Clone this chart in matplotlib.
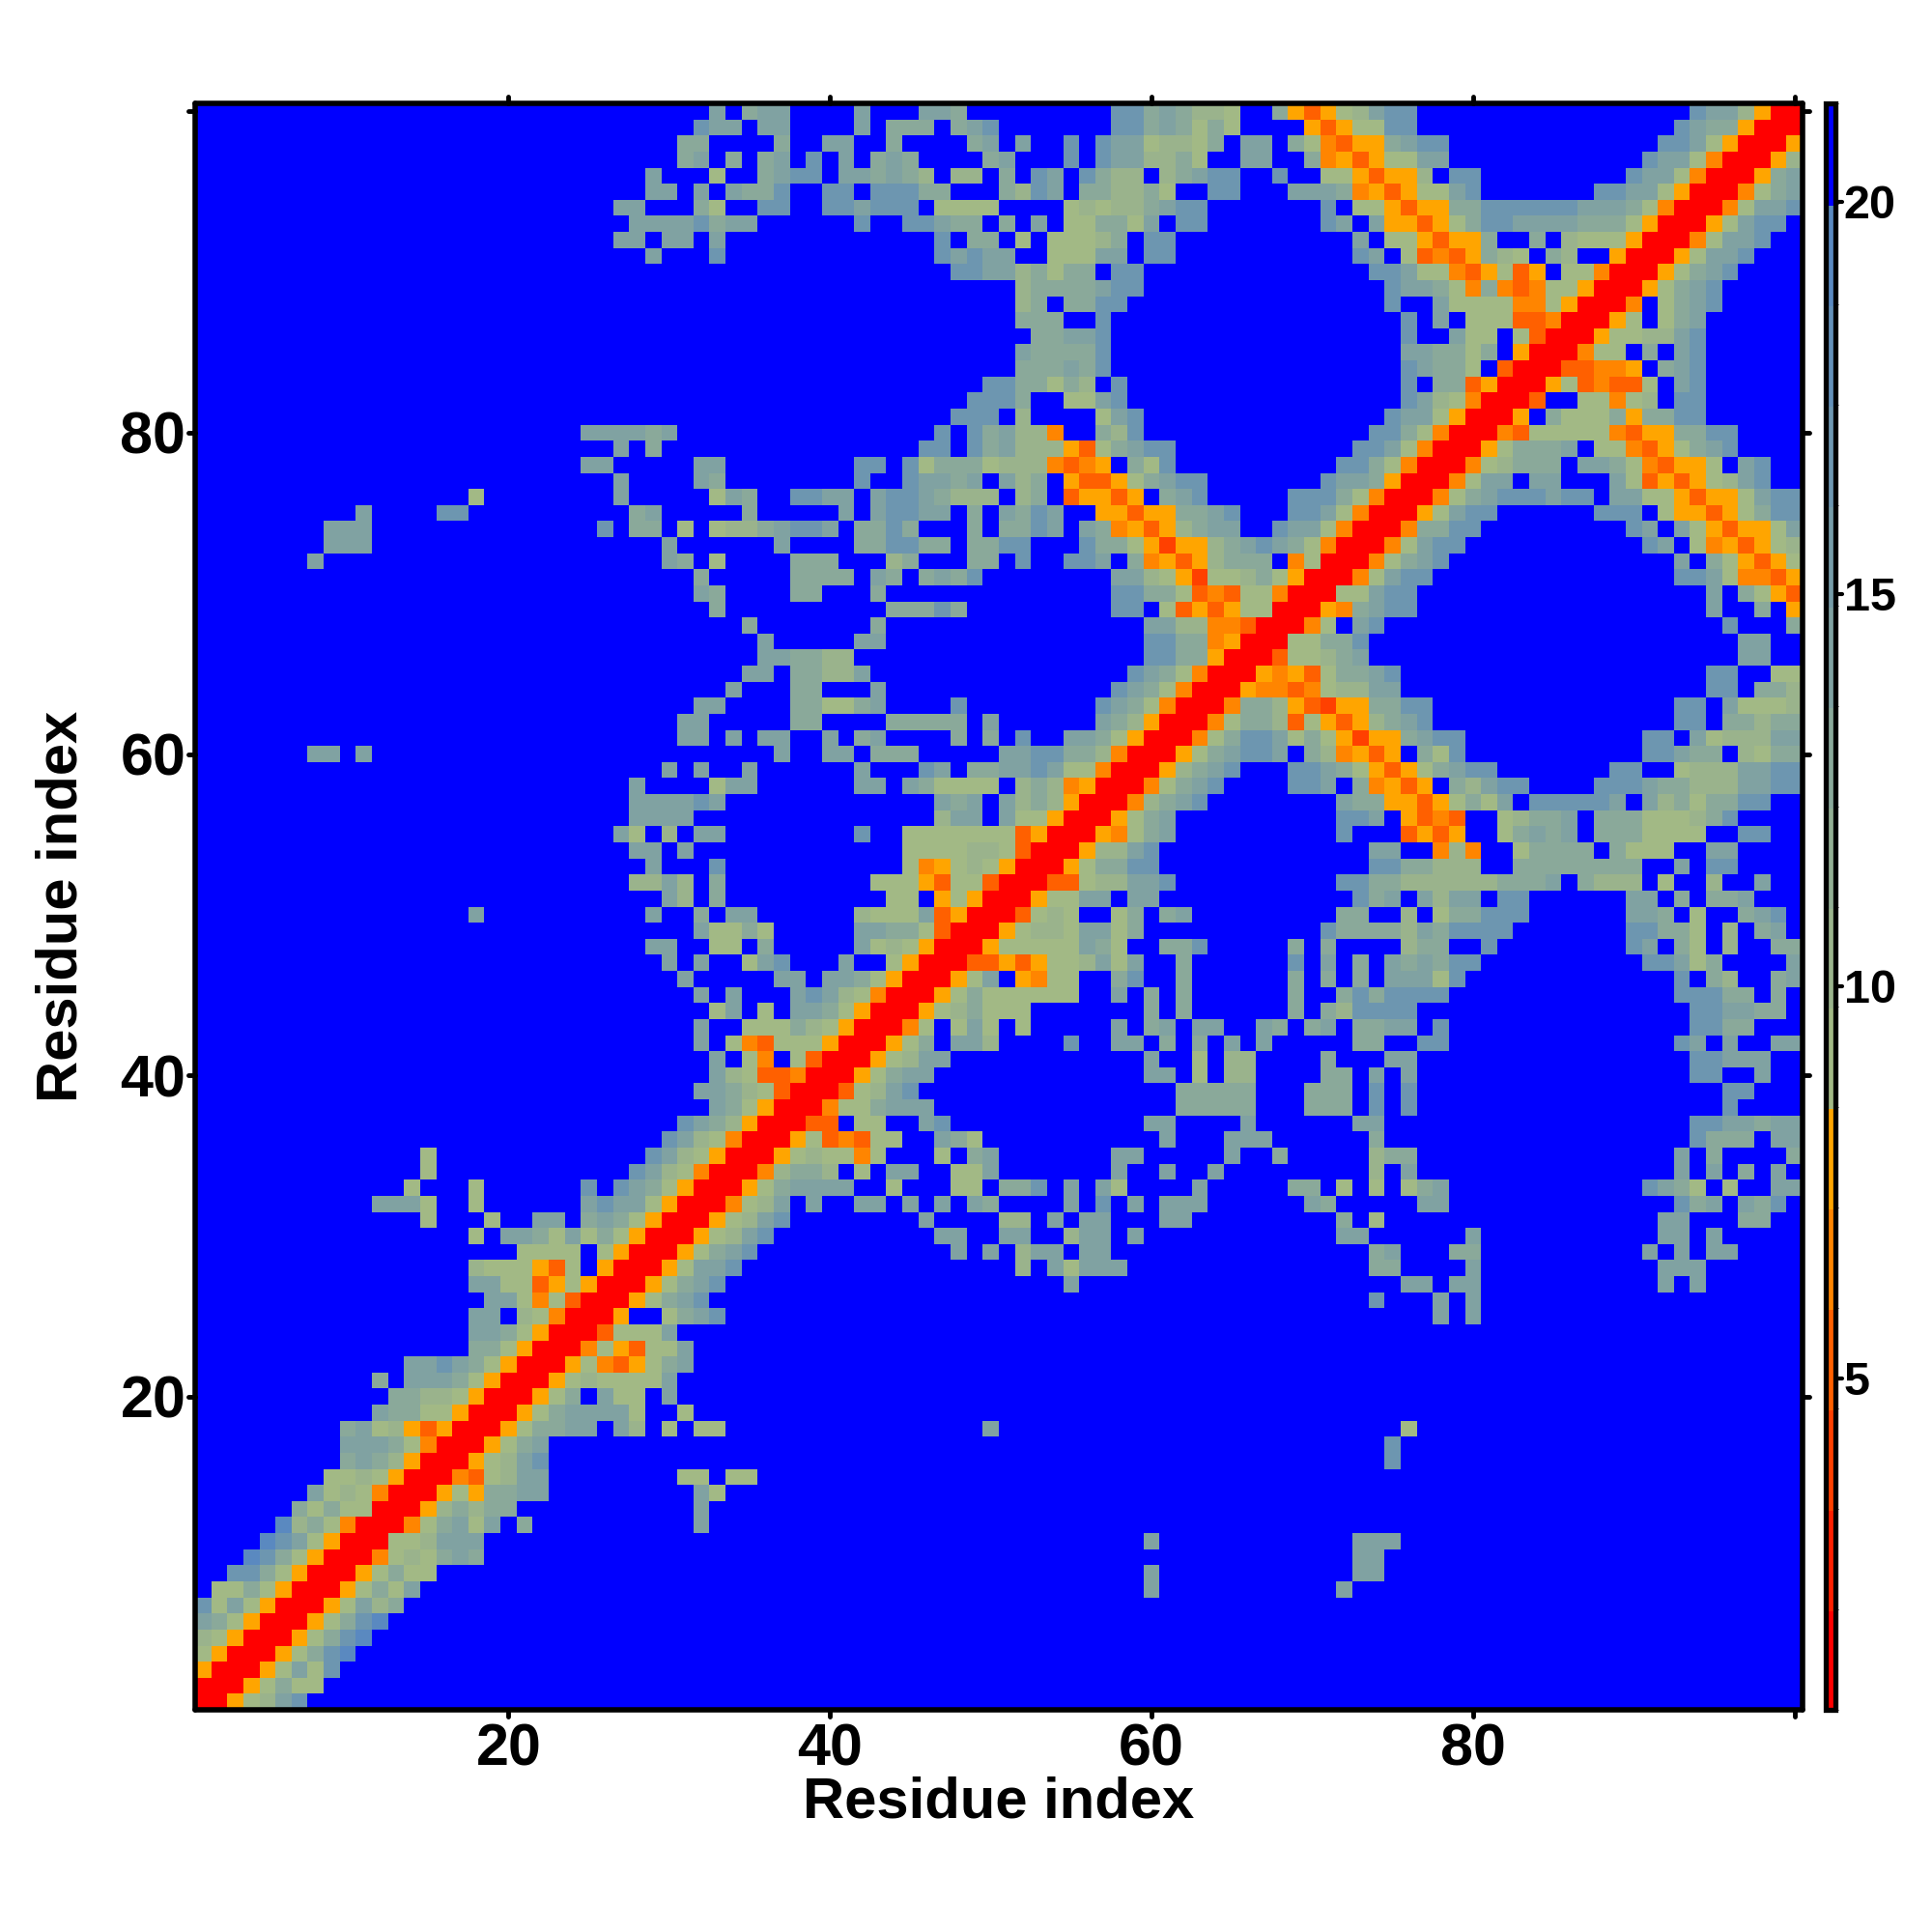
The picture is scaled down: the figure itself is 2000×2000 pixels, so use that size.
import matplotlib
matplotlib.use('Agg')
import matplotlib.pyplot as plt
from matplotlib.colors import ListedColormap, BoundaryNorm
from matplotlib.markers import MarkerStyle
import numpy as np

plt.rcParams['font.family'] = ['Liberation Sans', 'DejaVu Sans']
plt.rcParams['font.weight'] = 'bold'

# contact map, upper half only, each entry is "first_residue:codes" for one row
rows_01_33 = [
    "1:00567ac", "2:0056866", "3:0056a6c", "4:00568ce", "5:00568ce", "6:00568ce",
    "7:0056a78", "8:005686a 60:a 72:a", "9:0056866 60:a 73:aa", "10:0046768a8 73:aa",
    "11:00667aaa 60:a 73:aaa", "12:00468a6a.8 32:a", "13:00578788 32:a",
    "14:0056588aa 32:a6", "15:004367aa 31:66 34:66", "16:00567ac 75:c", "17:00568a 75:c",
    "18:005688aa.a7.6.66 50:a 76:6", "19:00568aaaa6..6", "20:00568.a66.a",
    "21:005676666a", "22:005643568a", "23:00465366a", "24:003666a",
    "25:005..68ac 78:a 80:a", "26:00568ac 74:c 78:a 80:a",
    "27:00568ac 55:a 76:aa 79:aa 92:a 94:a",
    "28:0056aac 52:7 54:a6aaa 74:88 80:a 92:aaa",
    "29:00568ac 48:a 50:a 52:7aa.aa 74:8a 79:88 91:a.a 95:aa",
    "30:00567ac 47:aa 51:aa 55:7aa 59:a 72:aa 80:a 92:aa 95:a",
    "31:00567ac 46:a 51:77 54:a 56:aa 61:aa 72:8.6 92:aa 97:88",
    "32:00467a.a 42:aa 45:a 47:a 49:a8 55:a 57:c 59:a 61:aaa 70:a8 77:aa 93:c8a 97:a8c",
    "33:00568aaaa 44:6 48:66 51:88c 55:a 57:a6 63:a 69:88 72:6 74:6 76:68a 91:ca86 96:6 99:aa",
]
rows_34_66 = [
    "34:0047887.6.aa 48:66a 58:a 61:a 64:a 74:7 76:a 93:a 95:a 97:8 99:a",
    "35:005676646 47:6 49:8a 58:aa 65:a 68:8 74:788 93:a 95:8 100:8",
    "36:005634366 47:a86 61:a 65:aaa 74:8 94:c888 99:aa",
    "37:0033.66 46:ac 60:aa 66:a 73:aa 94:ccaa8aa",
    "38:004668aaa 62:88888 70:888 74:c 76:c 96:c",
    "39:00367ac 62:88888 70:888 74:c 76:c 96:cc",
    "40:00568aa 60:aa 63:6 65:77 71:88 74:a 76:a 94:cc 98:a",
    "41:00567aa 60:a 63:6 65:77 71:8 75:aa 94:ccaaa",
    "42:00568.aa7 55:c 58:aa 61:8 63:8 65:a 67:a 73:88 77:cc 93:ca 96:a 99:aa",
    "43:0046.6a6.6 58:a 60:8a 63:aa 67:a8.8a 73:88aa 78:c 94:cc88",
    "44:005678666 60:8 62:8 69:8 71:87cccc 94:ccaa88",
    "45:00568666666 58:a 60:8 62:8 69:8 72:8c8cccc 93:ccc88 99:8",
    "46:0056a.5466 58:8c 62:8 69:8 71:8.8.aaa6c 93:c.87 99:8a",
    "47:0033535667a6a 62:8 69:c 71:a.8.a8a8cc 91:cca68 100:a",
    "48:00566666a86 61:88c 69:8.8 76:788 81:c 90:ca.86.7 99:88",
    "49:0056776aa68 71:c88887a8cccc 90:cc886.7.8a",
    "50:003676..68.8a 72:88..7.688ccc 90:aa8.6..8ac",
    "51:00566aa.aa 73:c8a.a7aa.cc 90:aa.8.88a",
    "52:0033677aac 72:cc88777777888a.8777.6..7..a",
    "53:005688cc 74:cc88777 83:88888888 93:a.cc",
    "54:00577ac 74:aa..474 83:68888.8666 95:aa",
    "55:005468a 72:c...3535 82:68a8a.8886666 97:cc",
    "56:00568a 72:cca.5343 82:6788a.88866678c",
    "57:00478ac 72:a885535686a.ccccca.a78688cc",
    "58:00468ac 69:cca.84535.87acc 88:ccca88777aacc",
    "59:00578ac 69:cca8653568acc 89:cc..6777aacc",
    "60:00568acca.874535.86c 91:cca88.7688",
    "61:00468cca68652558acc 91:cc.a6777aa",
    "62:00468873653578ac 93:cc.88788",
    "63:0048875325588cc 93:cc.a6667",
    "64:00544346 77aa 95:cc.887".replace("6 77", "677"),
    "65:005453688ac 95:cc..66",
    "66:0036678a 97:aa",
]
rows_67_100 = [
    "67:006688c 97:aa", "68:0046.ac 96:c 100:8", "69:00548acc 95:a 98:8 100:5",
    "70:0066acc 95:a 97:8653", "71:0046acc 93:cca64435", "72:00468ac 93:a.865356",
    "73:0046acc 91:ca.6453567", "74:00488cc 90:ca.a653556a",
    "75:0056acc 88:ccc.6553568cc", "76:00468acccacc.aa6653556acc",
    "77:0046aa.aa...a6353567ac", "78:00467888.aa8643556.ac",
    "79:0056888a.6643568ac", "80:0043666664355 88cc".replace(" ", ""),
    "81:005.86668588cc", "82:003..66467.cc", "83:005634336.ac", "84:0033445.8ac",
    "85:00466.8.ac", "86:0056677ac", "87:0056.68a", "88:004.68ac", "89:00568ac",
    "90:00568ac", "91:0056aac", "92:0046aac", "93:0056acc", "94:0046aac",
    "95:00468a", "96:0058a", "97:0057", "98:005", "99:00", "100:0",
]

# distance that each code stands for, '.' is everything far away
code_values = {'0': 1.4, '2': 4.0, '3': 5.2, '4': 6.5, '5': 7.8, '6': 9.1, '7': 10.4,
               '8': 12.9, 'a': 14.2, 'c': 16.8, 'e': 19.3, '.': 20.6}

band_edges = [0.77, 2.05, 3.33, 4.61, 5.89, 7.17, 8.45, 9.73, 11.01, 12.29, 13.57,
              14.85, 16.13, 17.41, 18.69, 19.97, 21.25]
band_colors = ['#ff0000', '#ff2000', '#ff4000', '#ff6000', '#ff8500', '#ffa500',
               '#a2b985', '#9ab38c', '#92ae93', '#8aa99a', '#80a2a2', '#769ca8',
               '#6d96b0', '#6390b8', '#5a89c0', '#0000ff']
cbar_ticks = [5, 10, 15, 20]
axis_ticks = [20, 40, 60, 80, 100]
axis_tick_labels = ['20', '40', '60', '80', '']

matrix = np.full((100, 100), code_values['.'])
for row in rows_01_33 + rows_34_66 + rows_67_100:
    parts = row.split()
    y = int(parts[0].split(':')[0])
    for part in parts:
        start, codes = part.split(':')
        for i, c in enumerate(codes):
            x = int(start) + i
            matrix[y - 1, x - 1] = code_values[c]
            matrix[x - 1, y - 1] = code_values[c]

cmap = ListedColormap(band_colors)
norm = BoundaryNorm(band_edges, cmap.N)

fig = plt.figure(figsize=(20, 20), dpi=100)
ax = fig.add_axes([202 / 2000, 230 / 2000, 1664 / 2000, 1663 / 2000])
im = ax.imshow(matrix, origin='lower', extent=[0.5, 100.5, 0.5, 100.5], aspect='auto',
               cmap=cmap, norm=norm, interpolation='nearest')

ax.set_xticks(axis_ticks)
ax.set_xticklabels(axis_tick_labels)
ax.set_yticks(axis_ticks)
ax.set_yticklabels(axis_tick_labels)
ax.tick_params(axis='both', top=True, right=True, direction='out', length=5, width=3.5,
               labelsize=44)
ax.tick_params(axis='x', pad=5)
ax.tick_params(axis='y', pad=2)
for line in ax.xaxis.get_ticklines() + ax.yaxis.get_ticklines():
    line.set_marker(MarkerStyle(line.get_marker(), capstyle='round'))
for spine in ax.spines.values():
    spine.set_linewidth(4)
    spine.set_capstyle('round')
ax.set_xlabel('Residue index', fontsize=43, fontweight='bold', labelpad=-2)
ax.set_ylabel('Residue index', fontsize=43, fontweight='bold', labelpad=23.5)

cax = fig.add_axes([1889.5 / 2000, 230 / 2000, 11 / 2000, 1663 / 2000])
cbar = fig.colorbar(im, cax=cax, ticks=cbar_ticks, spacing='proportional')
cbar.ax.set_yticklabels([str(t) for t in cbar_ticks])
cbar.ax.tick_params(length=5, width=3, labelsize=35, pad=1)
for line in cbar.ax.yaxis.get_ticklines():
    line.set_marker(MarkerStyle(line.get_marker(), capstyle='round'))
cbar.outline.set_linewidth(3.8)
cbar.solids.set_edgecolor('face')
cbar.dividers.set_visible(False)

fig.savefig('out.png', dpi=100)
